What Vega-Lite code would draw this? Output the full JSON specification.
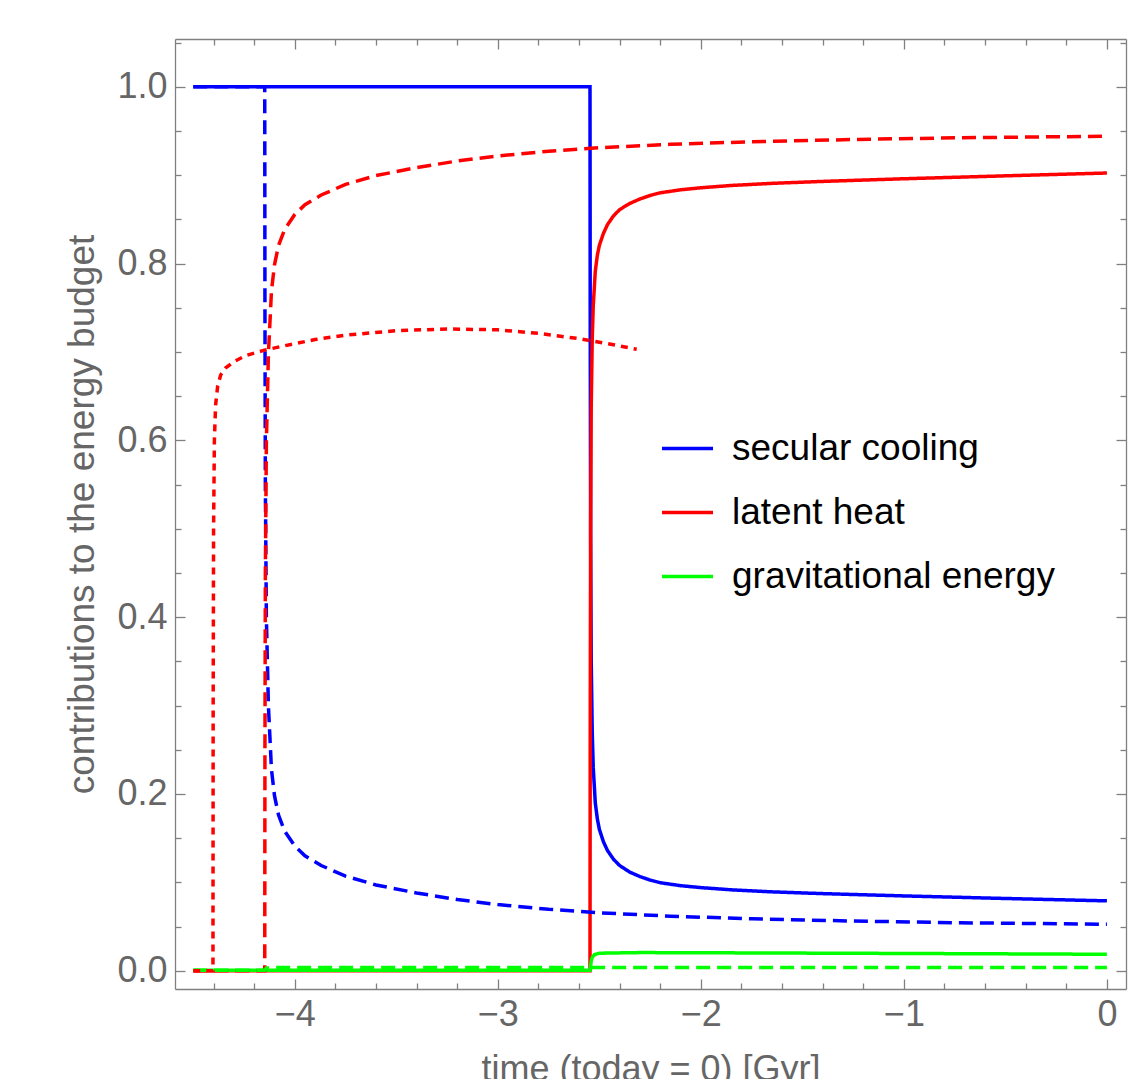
{
  "$schema": "https://vega.github.io/schema/vega-lite/v6.json",
  "width": 951,
  "height": 950,
  "autosize": {"type": "none"},
  "padding": {"left": 175, "top": 39, "right": 7, "bottom": 90},
  "background": "white",
  "config": {
    "view": {"stroke": null},
    "axis": {
      "grid": false,
      "domainColor": "#808080",
      "tickColor": "#808080",
      "domainWidth": 1.3,
      "tickWidth": 1.3,
      "labelColor": "#666666",
      "titleColor": "#666666",
      "labelFont": "Liberation Sans",
      "titleFont": "Liberation Sans",
      "titleFontWeight": "normal"
    }
  },
  "data": {
    "values": [
      {"s": "bA", "c": "secular cooling", "d": "solid", "t": -4.5, "v": 1},
      {"s": "bA", "c": "secular cooling", "d": "solid", "t": -2.546, "v": 1},
      {"s": "bA", "c": "secular cooling", "d": "solid", "t": -2.545, "v": 0.75},
      {"s": "bA", "c": "secular cooling", "d": "solid", "t": -2.543, "v": 0.5},
      {"s": "bA", "c": "secular cooling", "d": "solid", "t": -2.54, "v": 0.35},
      {"s": "bA", "c": "secular cooling", "d": "solid", "t": -2.535, "v": 0.27},
      {"s": "bA", "c": "secular cooling", "d": "solid", "t": -2.53, "v": 0.23},
      {"s": "bA", "c": "secular cooling", "d": "solid", "t": -2.52, "v": 0.19},
      {"s": "bA", "c": "secular cooling", "d": "solid", "t": -2.51, "v": 0.172},
      {"s": "bA", "c": "secular cooling", "d": "solid", "t": -2.5, "v": 0.16},
      {"s": "bA", "c": "secular cooling", "d": "solid", "t": -2.48, "v": 0.146},
      {"s": "bA", "c": "secular cooling", "d": "solid", "t": -2.46, "v": 0.136},
      {"s": "bA", "c": "secular cooling", "d": "solid", "t": -2.43, "v": 0.126},
      {"s": "bA", "c": "secular cooling", "d": "solid", "t": -2.4, "v": 0.119},
      {"s": "bA", "c": "secular cooling", "d": "solid", "t": -2.35, "v": 0.1115},
      {"s": "bA", "c": "secular cooling", "d": "solid", "t": -2.3, "v": 0.1065},
      {"s": "bA", "c": "secular cooling", "d": "solid", "t": -2.25, "v": 0.1025},
      {"s": "bA", "c": "secular cooling", "d": "solid", "t": -2.2, "v": 0.0995},
      {"s": "bA", "c": "secular cooling", "d": "solid", "t": -2.1, "v": 0.0962},
      {"s": "bA", "c": "secular cooling", "d": "solid", "t": -2.0, "v": 0.094},
      {"s": "bA", "c": "secular cooling", "d": "solid", "t": -1.85, "v": 0.0915},
      {"s": "bA", "c": "secular cooling", "d": "solid", "t": -1.65, "v": 0.0892},
      {"s": "bA", "c": "secular cooling", "d": "solid", "t": -1.4, "v": 0.0872},
      {"s": "bA", "c": "secular cooling", "d": "solid", "t": -1.0, "v": 0.0846},
      {"s": "bA", "c": "secular cooling", "d": "solid", "t": -0.5, "v": 0.0817},
      {"s": "bA", "c": "secular cooling", "d": "solid", "t": 0, "v": 0.079},

      {"s": "rA", "c": "latent heat", "d": "solid", "t": -4.5, "v": 0},
      {"s": "rA", "c": "latent heat", "d": "solid", "t": -2.546, "v": 0},
      {"s": "rA", "c": "latent heat", "d": "solid", "t": -2.545, "v": 0.248},
      {"s": "rA", "c": "latent heat", "d": "solid", "t": -2.543, "v": 0.495},
      {"s": "rA", "c": "latent heat", "d": "solid", "t": -2.54, "v": 0.638},
      {"s": "rA", "c": "latent heat", "d": "solid", "t": -2.535, "v": 0.715},
      {"s": "rA", "c": "latent heat", "d": "solid", "t": -2.53, "v": 0.752},
      {"s": "rA", "c": "latent heat", "d": "solid", "t": -2.52, "v": 0.791},
      {"s": "rA", "c": "latent heat", "d": "solid", "t": -2.51, "v": 0.809},
      {"s": "rA", "c": "latent heat", "d": "solid", "t": -2.5, "v": 0.8205},
      {"s": "rA", "c": "latent heat", "d": "solid", "t": -2.48, "v": 0.834},
      {"s": "rA", "c": "latent heat", "d": "solid", "t": -2.46, "v": 0.844},
      {"s": "rA", "c": "latent heat", "d": "solid", "t": -2.43, "v": 0.854},
      {"s": "rA", "c": "latent heat", "d": "solid", "t": -2.4, "v": 0.861},
      {"s": "rA", "c": "latent heat", "d": "solid", "t": -2.35, "v": 0.868},
      {"s": "rA", "c": "latent heat", "d": "solid", "t": -2.3, "v": 0.873},
      {"s": "rA", "c": "latent heat", "d": "solid", "t": -2.25, "v": 0.877},
      {"s": "rA", "c": "latent heat", "d": "solid", "t": -2.2, "v": 0.88},
      {"s": "rA", "c": "latent heat", "d": "solid", "t": -2.1, "v": 0.8834},
      {"s": "rA", "c": "latent heat", "d": "solid", "t": -2.0, "v": 0.8857},
      {"s": "rA", "c": "latent heat", "d": "solid", "t": -1.85, "v": 0.8883},
      {"s": "rA", "c": "latent heat", "d": "solid", "t": -1.65, "v": 0.8907},
      {"s": "rA", "c": "latent heat", "d": "solid", "t": -1.4, "v": 0.8929},
      {"s": "rA", "c": "latent heat", "d": "solid", "t": -1.0, "v": 0.8959},
      {"s": "rA", "c": "latent heat", "d": "solid", "t": -0.5, "v": 0.8992},
      {"s": "rA", "c": "latent heat", "d": "solid", "t": 0, "v": 0.9024},

      {"s": "gA", "c": "gravitational energy", "d": "solid", "t": -4.5, "v": 0.0005},
      {"s": "gA", "c": "gravitational energy", "d": "solid", "t": -2.546, "v": 0.0005},
      {"s": "gA", "c": "gravitational energy", "d": "solid", "t": -2.543, "v": 0.005},
      {"s": "gA", "c": "gravitational energy", "d": "solid", "t": -2.54, "v": 0.011},
      {"s": "gA", "c": "gravitational energy", "d": "solid", "t": -2.535, "v": 0.015},
      {"s": "gA", "c": "gravitational energy", "d": "solid", "t": -2.525, "v": 0.018},
      {"s": "gA", "c": "gravitational energy", "d": "solid", "t": -2.5, "v": 0.0198},
      {"s": "gA", "c": "gravitational energy", "d": "solid", "t": -2.3, "v": 0.0205},
      {"s": "gA", "c": "gravitational energy", "d": "solid", "t": -2.0, "v": 0.0203},
      {"s": "gA", "c": "gravitational energy", "d": "solid", "t": -1.0, "v": 0.0195},
      {"s": "gA", "c": "gravitational energy", "d": "solid", "t": 0, "v": 0.0186},

      {"s": "bB", "c": "secular cooling", "d": "dashed", "t": -4.5, "v": 1},
      {"s": "bB", "c": "secular cooling", "d": "dashed", "t": -4.148, "v": 1},
      {"s": "bB", "c": "secular cooling", "d": "dashed", "t": -4.147, "v": 0.75},
      {"s": "bB", "c": "secular cooling", "d": "dashed", "t": -4.145, "v": 0.55},
      {"s": "bB", "c": "secular cooling", "d": "dashed", "t": -4.14, "v": 0.4},
      {"s": "bB", "c": "secular cooling", "d": "dashed", "t": -4.13, "v": 0.3},
      {"s": "bB", "c": "secular cooling", "d": "dashed", "t": -4.115, "v": 0.228},
      {"s": "bB", "c": "secular cooling", "d": "dashed", "t": -4.1, "v": 0.198},
      {"s": "bB", "c": "secular cooling", "d": "dashed", "t": -4.08, "v": 0.176},
      {"s": "bB", "c": "secular cooling", "d": "dashed", "t": -4.05, "v": 0.158},
      {"s": "bB", "c": "secular cooling", "d": "dashed", "t": -4.0, "v": 0.141},
      {"s": "bB", "c": "secular cooling", "d": "dashed", "t": -3.95, "v": 0.13},
      {"s": "bB", "c": "secular cooling", "d": "dashed", "t": -3.87, "v": 0.119},
      {"s": "bB", "c": "secular cooling", "d": "dashed", "t": -3.75, "v": 0.107},
      {"s": "bB", "c": "secular cooling", "d": "dashed", "t": -3.6, "v": 0.097},
      {"s": "bB", "c": "secular cooling", "d": "dashed", "t": -3.4, "v": 0.088},
      {"s": "bB", "c": "secular cooling", "d": "dashed", "t": -3.2, "v": 0.0805},
      {"s": "bB", "c": "secular cooling", "d": "dashed", "t": -3.0, "v": 0.0748},
      {"s": "bB", "c": "secular cooling", "d": "dashed", "t": -2.75, "v": 0.0695},
      {"s": "bB", "c": "secular cooling", "d": "dashed", "t": -2.5, "v": 0.0655},
      {"s": "bB", "c": "secular cooling", "d": "dashed", "t": -2.15, "v": 0.0617},
      {"s": "bB", "c": "secular cooling", "d": "dashed", "t": -1.75, "v": 0.0587},
      {"s": "bB", "c": "secular cooling", "d": "dashed", "t": -1.25, "v": 0.0562},
      {"s": "bB", "c": "secular cooling", "d": "dashed", "t": -0.75, "v": 0.0543},
      {"s": "bB", "c": "secular cooling", "d": "dashed", "t": 0, "v": 0.0525},

      {"s": "rB", "c": "latent heat", "d": "dashed", "t": -4.5, "v": 0},
      {"s": "rB", "c": "latent heat", "d": "dashed", "t": -4.148, "v": 0},
      {"s": "rB", "c": "latent heat", "d": "dashed", "t": -4.147, "v": 0.249},
      {"s": "rB", "c": "latent heat", "d": "dashed", "t": -4.145, "v": 0.448},
      {"s": "rB", "c": "latent heat", "d": "dashed", "t": -4.14, "v": 0.5975},
      {"s": "rB", "c": "latent heat", "d": "dashed", "t": -4.13, "v": 0.697},
      {"s": "rB", "c": "latent heat", "d": "dashed", "t": -4.115, "v": 0.7685},
      {"s": "rB", "c": "latent heat", "d": "dashed", "t": -4.1, "v": 0.7985},
      {"s": "rB", "c": "latent heat", "d": "dashed", "t": -4.08, "v": 0.8205},
      {"s": "rB", "c": "latent heat", "d": "dashed", "t": -4.05, "v": 0.8385},
      {"s": "rB", "c": "latent heat", "d": "dashed", "t": -4.0, "v": 0.8555},
      {"s": "rB", "c": "latent heat", "d": "dashed", "t": -3.95, "v": 0.8665},
      {"s": "rB", "c": "latent heat", "d": "dashed", "t": -3.87, "v": 0.8775},
      {"s": "rB", "c": "latent heat", "d": "dashed", "t": -3.75, "v": 0.8895},
      {"s": "rB", "c": "latent heat", "d": "dashed", "t": -3.6, "v": 0.8995},
      {"s": "rB", "c": "latent heat", "d": "dashed", "t": -3.4, "v": 0.9085},
      {"s": "rB", "c": "latent heat", "d": "dashed", "t": -3.2, "v": 0.916},
      {"s": "rB", "c": "latent heat", "d": "dashed", "t": -3.0, "v": 0.9217},
      {"s": "rB", "c": "latent heat", "d": "dashed", "t": -2.75, "v": 0.927},
      {"s": "rB", "c": "latent heat", "d": "dashed", "t": -2.5, "v": 0.931},
      {"s": "rB", "c": "latent heat", "d": "dashed", "t": -2.15, "v": 0.9348},
      {"s": "rB", "c": "latent heat", "d": "dashed", "t": -1.75, "v": 0.9378},
      {"s": "rB", "c": "latent heat", "d": "dashed", "t": -1.25, "v": 0.9403},
      {"s": "rB", "c": "latent heat", "d": "dashed", "t": -0.75, "v": 0.9422},
      {"s": "rB", "c": "latent heat", "d": "dashed", "t": 0, "v": 0.944},

      {"s": "gB", "c": "gravitational energy", "d": "dashed", "t": -4.5, "v": 0.0005},
      {"s": "gB", "c": "gravitational energy", "d": "dashed", "t": -4.148, "v": 0.0005},
      {"s": "gB", "c": "gravitational energy", "d": "dashed", "t": -4.14, "v": 0.003},
      {"s": "gB", "c": "gravitational energy", "d": "dashed", "t": -4.1, "v": 0.0035},
      {"s": "gB", "c": "gravitational energy", "d": "dashed", "t": -2.0, "v": 0.0035},
      {"s": "gB", "c": "gravitational energy", "d": "dashed", "t": 0, "v": 0.0035},

      {"s": "rC", "c": "latent heat", "d": "dotted", "t": -4.5, "v": 0},
      {"s": "rC", "c": "latent heat", "d": "dotted", "t": -4.403, "v": 0},
      {"s": "rC", "c": "latent heat", "d": "dotted", "t": -4.402, "v": 0.3},
      {"s": "rC", "c": "latent heat", "d": "dotted", "t": -4.4, "v": 0.5},
      {"s": "rC", "c": "latent heat", "d": "dotted", "t": -4.396, "v": 0.6},
      {"s": "rC", "c": "latent heat", "d": "dotted", "t": -4.39, "v": 0.64},
      {"s": "rC", "c": "latent heat", "d": "dotted", "t": -4.38, "v": 0.661},
      {"s": "rC", "c": "latent heat", "d": "dotted", "t": -4.365, "v": 0.674},
      {"s": "rC", "c": "latent heat", "d": "dotted", "t": -4.34, "v": 0.682},
      {"s": "rC", "c": "latent heat", "d": "dotted", "t": -4.3, "v": 0.689},
      {"s": "rC", "c": "latent heat", "d": "dotted", "t": -4.24, "v": 0.696},
      {"s": "rC", "c": "latent heat", "d": "dotted", "t": -4.15, "v": 0.702},
      {"s": "rC", "c": "latent heat", "d": "dotted", "t": -4.05, "v": 0.707},
      {"s": "rC", "c": "latent heat", "d": "dotted", "t": -3.9, "v": 0.714},
      {"s": "rC", "c": "latent heat", "d": "dotted", "t": -3.75, "v": 0.719},
      {"s": "rC", "c": "latent heat", "d": "dotted", "t": -3.5, "v": 0.724},
      {"s": "rC", "c": "latent heat", "d": "dotted", "t": -3.25, "v": 0.726},
      {"s": "rC", "c": "latent heat", "d": "dotted", "t": -3.0, "v": 0.725},
      {"s": "rC", "c": "latent heat", "d": "dotted", "t": -2.8, "v": 0.721},
      {"s": "rC", "c": "latent heat", "d": "dotted", "t": -2.6, "v": 0.715},
      {"s": "rC", "c": "latent heat", "d": "dotted", "t": -2.45, "v": 0.709},
      {"s": "rC", "c": "latent heat", "d": "dotted", "t": -2.316, "v": 0.703}
    ]
  },
  "layer": [
    {
      "mark": {"type": "line", "strokeWidth": 3.5, "strokeCap": "butt"},
      "encoding": {
        "x": {
          "field": "t", "type": "quantitative",
          "scale": {"domain": [-4.59, 0.094], "nice": false, "zero": false},
          "axis": {
            "orient": "bottom", "values": [-4, -3, -2, -1, 0],
            "tickSize": -10, "labelPadding": 18, "labelFontSize": 36,
            "title": "time (today = 0) [Gyr]", "titleFontSize": 36,
            "titleY": 63, "titleBaseline": "top"
          }
        },
        "y": {
          "field": "v", "type": "quantitative",
          "scale": {"domain": [-0.0207, 1.054], "nice": false, "zero": false},
          "axis": {
            "orient": "left", "values": [0, 0.2, 0.4, 0.6, 0.8, 1.0], "format": ".1f",
            "tickSize": -10, "labelPadding": 18, "labelFontSize": 36,
            "title": "contributions to the energy budget", "titleFontSize": 37,
            "titleAngle": 270, "titleX": -82, "titleY": 475,
            "titleBaseline": "alphabetic", "titleAlign": "center"
          }
        },
        "color": {
          "field": "c", "type": "nominal",
          "scale": {
            "domain": ["secular cooling", "latent heat", "gravitational energy"],
            "range": ["#0000ff", "#ff0000", "#00ff00"]
          },
          "legend": {
            "orient": "none", "legendX": 485, "legendY": 382,
            "title": null, "symbolType": "stroke", "symbolSize": 2601,
            "symbolStrokeWidth": 3.5, "labelFontSize": 37, "labelFont": "Liberation Sans",
            "labelColor": "#000000", "labelLimit": 600, "rowPadding": 18, "labelOffset": 17,
            "symbolOffset": 0, "padding": 0
          }
        },
        "strokeDash": {
          "field": "d", "type": "nominal",
          "scale": {"domain": ["solid", "dashed", "dotted"], "range": [[1, 0], [14, 7], [7, 6]]},
          "legend": null
        },
        "detail": {"field": "s", "type": "nominal"}
      }
    },
    {
      "mark": {"type": "line", "strokeOpacity": 0},
      "encoding": {
        "x": {
          "field": "t", "type": "quantitative",
          "axis": {
            "orient": "bottom",
            "values": [-4.4, -4.2, -3.8, -3.6, -3.4, -3.2, -2.8, -2.6, -2.4, -2.2, -1.8, -1.6, -1.4, -1.2, -0.8, -0.6, -0.4, -0.2],
            "labels": false, "domain": false, "tickSize": -6, "title": null
          }
        },
        "y": {
          "field": "v", "type": "quantitative",
          "axis": {
            "orient": "left",
            "values": [0.05, 0.1, 0.15, 0.25, 0.3, 0.35, 0.45, 0.5, 0.55, 0.65, 0.7, 0.75, 0.85, 0.9, 0.95, 1.05],
            "labels": false, "domain": false, "tickSize": -6, "title": null
          }
        },
        "detail": {"field": "s", "type": "nominal"}
      }
    },
    {
      "mark": {"type": "line", "strokeOpacity": 0},
      "encoding": {
        "x": {
          "field": "t", "type": "quantitative",
          "axis": {
            "orient": "top", "values": [-4, -3, -2, -1, 0],
            "labels": false, "tickSize": -10, "title": null
          }
        },
        "y": {
          "field": "v", "type": "quantitative",
          "axis": {
            "orient": "right", "values": [0, 0.2, 0.4, 0.6, 0.8, 1.0],
            "labels": false, "tickSize": -10, "title": null
          }
        },
        "detail": {"field": "s", "type": "nominal"}
      }
    },
    {
      "mark": {"type": "line", "strokeOpacity": 0},
      "encoding": {
        "x": {
          "field": "t", "type": "quantitative",
          "axis": {
            "orient": "top",
            "values": [-4.4, -4.2, -3.8, -3.6, -3.4, -3.2, -2.8, -2.6, -2.4, -2.2, -1.8, -1.6, -1.4, -1.2, -0.8, -0.6, -0.4, -0.2],
            "labels": false, "domain": false, "tickSize": -6, "title": null
          }
        },
        "y": {
          "field": "v", "type": "quantitative",
          "axis": {
            "orient": "right",
            "values": [0.05, 0.1, 0.15, 0.25, 0.3, 0.35, 0.45, 0.5, 0.55, 0.65, 0.7, 0.75, 0.85, 0.9, 0.95, 1.05],
            "labels": false, "domain": false, "tickSize": -6, "title": null
          }
        },
        "detail": {"field": "s", "type": "nominal"}
      }
    }
  ],
  "resolve": {"axis": {"x": "independent", "y": "independent"}}
}
